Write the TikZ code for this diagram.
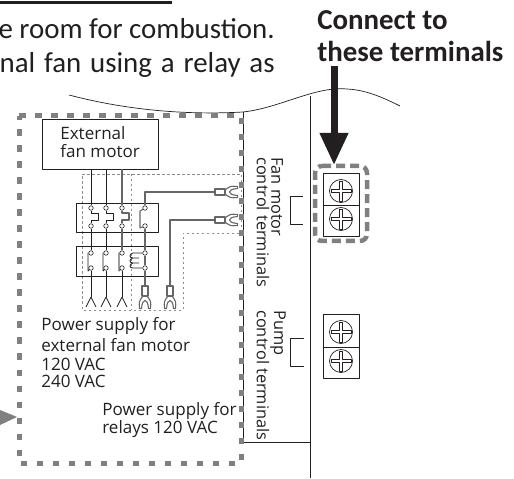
\documentclass[tikz,border=0pt]{standalone}
\usepackage{fontspec}
\setmainfont{Carlito}
\newfontfamily\labelfont{Open Sans}
\usetikzlibrary{arrows.meta}
\definecolor{inkcol}{RGB}{35,31,32}
\definecolor{marksgray}{RGB}{128,128,128}
\newcommand{\forklug}[2]{\draw [wiregray,shift={(#1)},rotate=#2] (0bp,2.5bp) ..controls (5bp,6bp) .. (12bp,5.5bp) -- (12bp,3.5bp) ..controls (6bp,3bp) and (4bp,1.5bp) .. (4bp,0bp) ..controls (4bp,-1.5bp) and (6bp,-3bp) .. (12bp,-3.5bp) -- (12bp,-5.5bp) ..controls (5bp,-6bp) .. (0bp,-2.5bp);}
\newcommand{\screwplus}[1]{\draw [shift={(#1)}] (-10bp,1.5bp) -- (-1.5bp,1.5bp) -- (-1.5bp,10bp) -- (1.5bp,10bp) -- (1.5bp,1.5bp) -- (10bp,1.5bp) -- (10bp,-1.5bp) -- (1.5bp,-1.5bp) -- (1.5bp,-10bp) -- (-1.5bp,-10bp) -- (-1.5bp,-1.5bp) -- (-10bp,-1.5bp) -- cycle;}
\tikzset{
  bigtxt/.style={inner sep=0pt,text=inkcol,font=\fontsize{29}{31}\selectfont},
  boldtxt/.style={inner sep=0pt,text=inkcol,font=\fontsize{29}{31}\selectfont\bfseries},
  smalltxt/.style={inner sep=0pt,text=inkcol,font=\labelfont\fontsize{17.1}{19}\selectfont},
  sidetxt/.style={inner sep=0pt,text=inkcol,rotate=-90,anchor=west,font=\labelfont\fontsize{16.4}{18}\selectfont},
  wire/.style={draw=inkcol,line width=0.8bp},
  wiregray/.style={draw=black!60,line width=1.1bp},
  pin/.style={draw=inkcol,circle,fill=white,inner sep=0pt,minimum size=4.5bp,line width=0.6bp},
  relaybox/.style={draw=inkcol,line width=0.8bp,minimum width=82bp,minimum height=29bp,inner sep=0pt},
  termbox/.style={draw=inkcol,line width=0.7bp,minimum width=36bp,inner sep=0pt},
  screw/.style={draw=inkcol,circle,minimum size=23bp,inner sep=0pt,line width=0.7bp},
  lug/.style={wiregray,rectangle,minimum width=10bp,minimum height=6bp,inner sep=0pt},
  thickdash/.style={draw=marksgray,line width=5bp,dash pattern=on 6.5bp off 9.5bp},
  thindash/.style={draw=black!45,line width=0.6bp,dash pattern=on 2.5bp off 2.5bp},
}
\begin{document}
\begin{tikzpicture}[line join=bevel,inkcol,line width=0.7bp]
\useasboundingbox (0bp,0bp) rectangle (514bp,479bp);
%% page text
\draw [line width=3bp] (0bp,476bp) -- (172bp,476bp);
\node (para1) at (275bp,440bp) [bigtxt,anchor=base east] {e room for combustion.};
\node (para2) at (275bp,406bp) [bigtxt,anchor=base east] {\makebox[275bp][s]{nal fan using a relay as}};
\node (connect1) at (317bp,449bp) [boldtxt,anchor=base west] {Connect to};
\node (connect2) at (317bp,417bp) [boldtxt,anchor=base west] {these terminals};
%% panel outline
\draw (69bp,384bp) ..controls (130bp,368bp) and (190bp,364bp) .. (243bp,367bp) ..controls (280bp,371bp) and (315bp,393bp) .. (347bp,390bp) ..controls (365bp,389bp) and (380bp,383bp) .. (400bp,373bp);
\draw (243bp,367bp) -- (243bp,37bp) -- (310bp,37bp);
\draw (310bp,383bp) -- (310bp,1bp);
%% thin dashed outlines
\draw [thindash] (82bp,305bp) -- (241bp,305bp) -- (241bp,246bp) -- (183bp,246bp) -- (183bp,169bp) -- (82bp,169bp) -- cycle;
\draw [thindash] (131bp,305bp) -- (131bp,169bp);
%% motor and relays
\node (motor) at (100bp,335bp) [draw=inkcol,line width=0.8bp,minimum width=116bp,minimum height=50bp,inner sep=0pt] {};
\node (motortxt1) at (60bp,339bp) [smalltxt,anchor=base west] {External};
\node (motortxt2) at (60bp,321bp) [smalltxt,anchor=base west] {fan motor};
\node (relayA) at (117bp,261.5bp) [relaybox] {};
\node (relayB) at (117bp,218bp) [relaybox,minimum height=30bp] {};
\node (A1) at (91bp,271bp) [pin] {};
\node (A2) at (106bp,271bp) [pin] {};
\node (A3) at (122bp,271bp) [pin] {};
\node (A4) at (145bp,271bp) [pin] {};
\node (B1) at (91bp,253bp) [pin] {};
\node (B2) at (106bp,253bp) [pin] {};
\node (B3) at (122bp,253bp) [pin] {};
\node (B4) at (145bp,253bp) [pin] {};
\node (C1) at (91bp,226bp) [pin] {};
\node (C2) at (106bp,226bp) [pin] {};
\node (C3) at (122bp,226bp) [pin] {};
\node (C4) at (145bp,226bp) [pin] {};
\node (D1) at (91bp,211bp) [pin] {};
\node (D2) at (106bp,211bp) [pin] {};
\node (D3) at (122bp,211bp) [pin] {};
\node (D4) at (145bp,211bp) [pin] {};
\coordinate (V1) at (91bp,182bp);
\coordinate (V2) at (106bp,182bp);
\coordinate (V3) at (122bp,182bp);
\node (L1) at (220bp,287bp) [lug] {};
\node (L2) at (220bp,259bp) [lug] {};
\node (L3) at (145bp,188bp) [lug,minimum width=6bp,minimum height=10bp] {};
\node (L4) at (170bp,188bp) [lug,minimum width=6bp,minimum height=10bp] {};
%% wires
\draw [wire] (A1) -- (A1 |- motor.south);
\draw [wire] (A2) -- (A2 |- motor.south);
\draw [wiregray] (A3) -- (A3 |- motor.south);
\draw [wire] (B1) -- (C1);
\draw [wire] (B2) -- (C2);
\draw [wiregray] (B3) -- (C3);
\draw [wiregray] (B4) -- (C4);
\draw [wire] (D1) -- (V1);
\draw [wire] (D2) -- (V2);
\draw [wire] (D3) -- (V3);
\draw [wiregray] (D4) -- (L3);
\draw [wiregray] (A4) |- (L1);
\draw [wiregray] (L4) |- (L2);
\draw [wire] (86bp,172bp) -- (V1) -- (96bp,172bp);
\draw [wire] (101bp,172bp) -- (V2) -- (111bp,172bp);
\draw [wire] (117bp,172bp) -- (V3) -- (127bp,172bp);
\forklug{L1.east}{0}
\forklug{L2.east}{0}
\forklug{L3.south}{-90}
\forklug{L4.south}{-90}
%% relay contacts
\draw [wire] (A1) -- (91bp,266bp) -- (98bp,266bp) -- (98bp,259bp) -- (91bp,259bp) -- (B1);
\draw [wire] (A2) -- (106bp,266bp) -- (113bp,266bp) -- (113bp,259bp) -- (106bp,259bp) -- (B2);
\draw [wiregray] (A3) -- (122bp,266bp) -- (129bp,266bp) -- (129bp,259bp) -- (122bp,259bp) -- (B3);
\draw [wiregray] (A4) -- (140bp,268bp) -- (140bp,251bp) -- (B4);
\draw [wire] (C1) -- (88bp,226bp) -- (88bp,208bp) -- (D1);
\draw [wire] (C2) -- (103bp,226bp) -- (103bp,208bp) -- (D2);
\draw [wiregray] (C3) -- (119bp,226bp) -- (119bp,208bp) -- (D3);
\draw [wiregray] (C4) -- (D4);
\draw [wire] (C4) -- (133bp,226bp) ..controls (129bp,225bp) and (129bp,221bp) .. (133bp,221bp) -- (139bp,221bp) -- (133bp,221bp) ..controls (129bp,220bp) and (129bp,216bp) .. (133bp,216bp) -- (139bp,216bp) -- (133bp,216bp) ..controls (129bp,215bp) and (129bp,211bp) .. (133bp,211bp) -- (D4);
%% thick dashed outlines
\draw [thickdash] (19bp,363bp) -- (241bp,363bp) -- (241bp,15bp) -- (19bp,15bp) -- cycle;
\fill [marksgray] (0bp,69bp) -- (17bp,62bp) -- (0bp,54bp) -- cycle;
%% bottom texts
\node (supply1) at (41bp,148bp) [smalltxt,anchor=base west] {Power supply for};
\node (supply2) at (41bp,127bp) [smalltxt,anchor=base west] {external fan motor};
\node (supply3) at (41bp,108bp) [smalltxt,anchor=base west] {120 VAC};
\node (supply4) at (41bp,91bp) [smalltxt,anchor=base west] {240 VAC};
\node (supply5) at (102bp,63bp) [smalltxt,anchor=base west] {Power supply for};
\node (supply6) at (102bp,45bp) [smalltxt,anchor=base west] {relays 120 VAC};
%% rotated labels
\node (fan1) at (277bp,322bp) [sidetxt] {Fan motor};
\node (fan2) at (263bp,322bp) [sidetxt] {control terminals};
\node (pump1) at (278bp,169bp) [sidetxt] {Pump};
\node (pump2) at (263bp,169bp) [sidetxt] {control terminals};
\draw (303bp,283bp) -- (290bp,283bp) -- (290bp,255bp) -- (303bp,255bp);
\draw (304bp,141bp) -- (290bp,141bp) -- (290bp,113bp) -- (304bp,113bp);
%% terminals
\node (fanbox) at (341bp,274.5bp) [termbox,minimum height=63bp] {};
\node (pumpbox) at (341bp,133bp) [termbox,minimum height=64bp] {};
\draw (fanbox.west |- 0bp,274bp) -- (fanbox.east |- 0bp,274bp);
\draw (pumpbox.west |- 0bp,132bp) -- (pumpbox.east |- 0bp,132bp);
\node (S1) at (341bp,288bp) [screw] {};
\node (S2) at (341bp,260bp) [screw] {};
\node (S3) at (341bp,147bp) [screw] {};
\node (S4) at (341bp,118bp) [screw] {};
\screwplus{S1}
\screwplus{S2}
\screwplus{S3}
\screwplus{S4}
\draw [thickdash,rounded corners=7bp,dash pattern=on 9bp off 5bp,line width=4.5bp] (315bp,313bp) -- (367bp,313bp) -- (367bp,238bp) -- (315bp,238bp) -- cycle;
%% big arrow
\coordinate (arrowtop) at (334bp,413bp);
\coordinate (arrowend) at (334bp,314bp);
\draw [-{Triangle[length=32bp,width=27bp]},line width=7bp,draw=inkcol,fill=inkcol] (arrowtop) -- (arrowend);
%
\end{tikzpicture}
\end{document}
